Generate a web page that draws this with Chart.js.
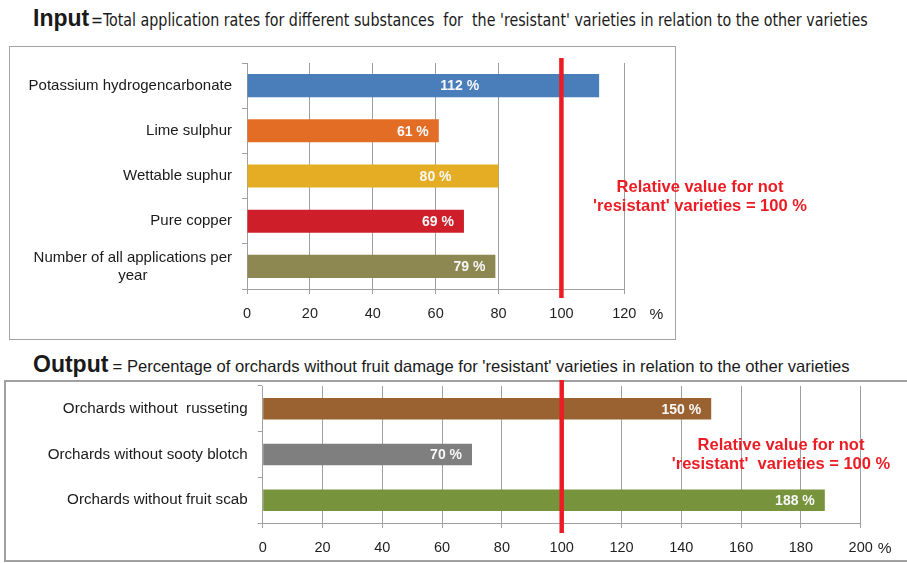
<!DOCTYPE html>
<html>
<head>
<meta charset="utf-8">
<script src="https://cdn.jsdelivr.net/npm/chart.js"></script>
<style>
  html, body { margin: 0; padding: 0; background: #fff; }
  body { width: 907px; height: 563px; position: relative; overflow: hidden; font-family: "Liberation Sans", Arial, sans-serif; }
  .box { position: absolute; box-sizing: border-box; }
  .title { position: absolute; white-space: nowrap; color: #1a1a1a; }
  .title b { font-size: 23px; }
  .rest { display: inline-block; transform-origin: left center; }
  canvas { position: absolute; left: 0; }
</style>
</head>
<body>
<div class="box" style="left:9px;top:46px;width:667px;height:294px;border:1.5px solid #a3a3a3;"></div>
<div class="box" style="left:4px;top:380px;width:920px;height:182px;border:2px solid #a0a0a0;"></div>

<div class="title" id="t1" style="left:33px;top:5px;">
  <b>Input</b><span class="rest" style="margin-left:2px;font-family:'Liberation Sans Narrow','DejaVu Sans Condensed','Liberation Sans',sans-serif;font-size:17.5px;">=Total application rates for different substances&nbsp; for&nbsp; the 'resistant' varieties in relation to the other varieties</span>
</div>
<div class="title" id="t2" style="left:33px;top:351px;">
  <b>Output</b><span class="rest" style="font-size:16.5px;">&nbsp;= Percentage of orchards without fruit damage for 'resistant' varieties in relation to the other varieties</span>
</div>

<canvas id="inputChart" width="907" height="294" style="top:46px;"></canvas>
<canvas id="outputChart" width="907" height="182" style="top:380px;"></canvas>

<script>
// --- data ---
const inputLabels = ['Potassium hydrogencarbonate', 'Lime sulphur', 'Wettable suphur', 'Pure copper', ['Number of all applications per', 'year']];
const inputValues = [112, 61, 80, 69, 79];
const inputTicks = [0, 20, 40, 60, 80, 100, 120];

const outputLabels = ['Orchards without  russeting', 'Orchards without sooty blotch', 'Orchards without fruit scab'];
const outputValues = [150, 70, 188];
const outputTicks = [0, 20, 40, 60, 80, 100, 120, 140, 160, 180, 200];

const referenceValue = 100;
const noteLines1 = ['Relative value for not', "'resistant' varieties = 100 %"];
const noteLines2 = ['Relative value for not', "'resistant'  varieties = 100 %"];

// fit the subtitle text to the width it has in the picture
function fitTitle(id, endX) {
    const rest = document.querySelector('#' + id + ' .rest');
    const r = rest.getBoundingClientRect();
    rest.style.transform = 'scaleX(' + ((endX - r.left) / r.width) + ')';
}
fitTitle('t1', 868);
fitTitle('t2', 850);

const gridGrey = '#a0a0a0';
const FONT = '"Liberation Sans", Arial, sans-serif';

// category labels: right aligned block, extra lines centred under the first
const catLabels = {
    id: 'catLabels',
    afterDraw(chart, args, o) {
        const { ctx, chartArea, scales: { y } } = chart;
        ctx.save();
        ctx.font = o.size + 'px ' + FONT;
        ctx.fillStyle = '#1a1a1a';
        ctx.textBaseline = 'middle';
        const right = chartArea.left - 15;
        chart.data.labels.forEach((lab, i) => {
            const lines = Array.isArray(lab) ? lab : [lab];
            const yc = y.getPixelForValue(i);
            if (lines.length === 1) {
                ctx.textAlign = 'right';
                ctx.fillText(lines[0], right, yc);
                return;
            }
            const widest = Math.max(...lines.map(l => ctx.measureText(l).width));
            const lh = o.size * 1.2;
            ctx.textAlign = 'center';
            lines.forEach((l, k) => {
                ctx.fillText(l, right - widest / 2, yc + (k - (lines.length - 1) / 2) * lh);
            });
        });
        ctx.restore();
    }
};

// value labels inside the bars
const valueLabels = {
    id: 'valueLabels',
    afterDatasetsDraw(chart, args, o) {
        const { ctx } = chart;
        const meta = chart.getDatasetMeta(0);
        ctx.save();
        ctx.font = 'bold 14px ' + FONT;
        ctx.fillStyle = '#f7f7f7';
        ctx.textAlign = 'right';
        ctx.textBaseline = 'middle';
        meta.data.forEach((bar, i) => {
            const v = chart.data.datasets[0].data[i];
            ctx.fillText(v + ' %', bar.x - o.inset[i], bar.y + 1);
        });
        ctx.restore();
    }
};

// red reference line, its note and the % unit
const refLine = {
    id: 'refLine',
    afterDatasetsDraw(chart, args, o) {
        const { ctx, chartArea: a, scales: { x } } = chart;
        const px = x.getPixelForValue(referenceValue);
        ctx.save();
        ctx.strokeStyle = '#ec1c24';
        ctx.lineWidth = 4.5;
        ctx.beginPath();
        ctx.moveTo(px, a.top - o.over[0]);
        ctx.lineTo(px, a.bottom + o.over[1]);
        ctx.stroke();

        ctx.font = 'bold 16.5px ' + FONT;
        ctx.fillStyle = '#ec1c24';
        ctx.textAlign = 'center';
        ctx.textBaseline = 'middle';
        o.note.forEach((line, i) => ctx.fillText(line, o.noteX, o.noteY + i * 19));

        ctx.font = '15.5px ' + FONT;
        ctx.fillStyle = '#222';
        ctx.fillText('%', a.right + o.unitDx, a.bottom + 26);
        ctx.restore();
    }
};

function makeChart(id, labels, values, colors, ticks, max, cfg) {
    return new Chart(document.getElementById(id), {
        type: 'bar',
        data: {
            labels: labels,
            datasets: [{
                data: values,
                backgroundColor: colors,
                borderWidth: 0,
                barPercentage: cfg.bar,
                categoryPercentage: 1
            }]
        },
        options: {
            indexAxis: 'y',
            responsive: false,
            animation: false,
            devicePixelRatio: 1,
            layout: { padding: cfg.padding },
            plugins: {
                legend: { display: false },
                tooltip: { enabled: false },
                catLabels: { size: cfg.labelSize },
                valueLabels: { inset: cfg.inset },
                refLine: cfg.ref
            },
            scales: {
                x: {
                    min: 0,
                    max: max,
                    afterBuildTicks: s => { s.ticks = ticks.map(v => ({ value: v })); },
                    afterFit: s => { s.height = 30; },
                    grid: { color: gridGrey, lineWidth: 1, tickLength: 5 },
                    border: { display: true, color: gridGrey, width: 1 },
                    ticks: { color: '#1e1e1e', padding: 11, maxRotation: 0, font: { size: 14.5, family: FONT } }
                },
                y: {
                    afterFit: s => { s.width = cfg.yWidth; },
                    grid: { drawOnChartArea: false, color: gridGrey, tickLength: 5 },
                    border: { display: true, color: gridGrey, width: 1 },
                    ticks: { display: false }
                }
            }
        },
        plugins: [catLabels, valueLabels, refLine]
    });
}

makeChart('inputChart', inputLabels, inputValues,
    ['#4a7ebb', '#e46d25', '#e4ad23', '#ce1e2a', '#8d8751'],
    inputTicks, 120, {
        bar: 0.51,
        padding: { top: 17, right: 282.7, bottom: 21, left: 0 },
        yWidth: 247,
        labelSize: 15,
        inset: [120, 10, 47, 10, 10],
        ref: { over: [5, 9], note: noteLines1, noteX: 700, noteY: 141, unitDx: 32 }
    });

makeChart('outputChart', outputLabels, outputValues,
    ['#9a6230', '#7f7f7f', '#77933c'],
    outputTicks, 200, {
        bar: 0.47,
        padding: { top: 6, right: 46.3, bottom: 9, left: 0 },
        yWidth: 262.7,
        labelSize: 15.2,
        inset: [10, 10, 10],
        ref: { over: [6, 10], note: noteLines2, noteX: 781, noteY: 65, unitDx: 24 }
    });
</script>
</body>
</html>
